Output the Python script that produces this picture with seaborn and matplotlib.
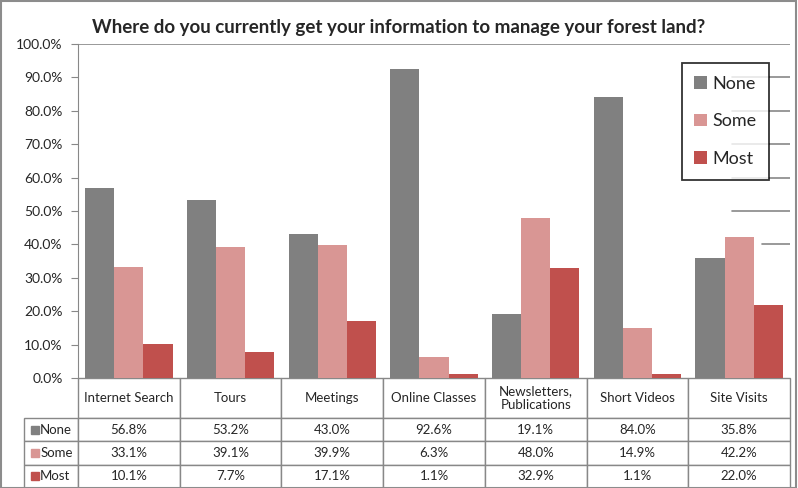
import pandas as pd
import numpy as np
import seaborn as sns
import matplotlib.pyplot as plt
from matplotlib.table import Table
from matplotlib.patches import Rectangle
from matplotlib.ticker import FuncFormatter

sources = ["Internet Search", "Tours", "Meetings", "Online Classes",
           "Newsletters,\nPublications", "Short Videos", "Site Visits"]
levels = ["None", "Some", "Most"]
none_vals = [56.8, 53.2, 43.0, 92.6, 19.1, 84.0, 35.8]
some_vals = [33.1, 39.1, 39.9, 6.3, 48.0, 14.9, 42.2]
most_vals = [10.1, 7.7, 17.1, 1.1, 32.9, 1.1, 22.0]
colors = ["#808080", "#D99694", "#C0504D"]

sns.set_style("white")
plt.rcParams['font.family'] = ['Lato', 'DejaVu Sans']

rows = []
for lvl, vals in zip(levels, [none_vals, some_vals, most_vals]):
    for src, v in zip(sources, vals):
        rows.append({"source": src, "level": lvl, "value": v})
df = pd.DataFrame(rows)

fig = plt.figure(figsize=(7.98, 4.88), dpi=100)
ax = fig.add_axes([78 / 798, 1 - 378 / 488, 712 / 798, 334 / 488])

sns.barplot(data=df, x="source", y="value", hue="level", palette=colors,
            width=0.86, gap=0, errorbar=None, ax=ax, saturation=1, linewidth=0)

ax.set_xlim(-0.5, len(sources) - 0.5)
ax.set_ylim(0, 100)
ax.set_yticks(np.arange(0, 101, 10))
ax.yaxis.set_major_formatter(FuncFormatter(lambda v, p: f"{v:.1f}%"))
ax.tick_params(axis="y", labelsize=10, length=5, color="#888888", left=True, pad=6)
ax.set_xticks([])
ax.set_xlabel("")
ax.set_ylabel("")
for s in ["top", "right", "bottom"]:
    ax.spines[s].set_visible(False)
ax.spines["left"].set_color("#888888")
ax.axhline(100, color="#888888", lw=1.2)
for g in [50, 60, 70, 80, 90]:
    ax.axhline(g, xmin=0.918, xmax=1, color="#888888", lw=1.2)
ax.axhline(40, xmin=0.96, xmax=1, color="#888888", lw=1.2)

fig.suptitle("Where do you currently get your information to manage your forest land?",
             x=0.5, y=1 - 28 / 488, va="center", fontsize=13.5, fontweight="bold")

leg = ax.legend(loc="upper right", bbox_to_anchor=(0.9705, 0.943), fontsize=13,
                frameon=True, fancybox=False, handlelength=0.7, handleheight=0.7,
                labelspacing=1.2, borderpad=0.7, handletextpad=0.3, borderaxespad=0)
leg.get_frame().set_edgecolor("black")
leg.get_frame().set_linewidth(1.3)

# data table under the plot: column 0 holds the row labels
lab_w = 54 / (712 / 7)
tbl = Table(ax, bbox=[-54 / 712, -110 / 334, 1 + 54 / 712, 110 / 334])
head_h, row_h = 40, 23.3
for j, src in enumerate(sources):
    c = tbl.add_cell(0, j + 1, width=1, height=head_h, text=src, loc="center")
    c.get_text().set_fontsize(9.5)
for i, (lvl, vals) in enumerate(zip(levels, [none_vals, some_vals, most_vals])):
    c = tbl.add_cell(i + 1, 0, width=lab_w, height=row_h, text=lvl, loc="left")
    c.PAD = 0.3
    c.get_text().set_fontsize(9.5)
    for j, v in enumerate(vals):
        c = tbl.add_cell(i + 1, j + 1, width=1, height=row_h, text=f"{v:.1f}%", loc="center")
        c.get_text().set_fontsize(9.5)
tbl.auto_set_font_size(False)
for cell in tbl.get_celld().values():
    cell.set_edgecolor("#888888")
    cell.set_linewidth(1.0)
ax.add_table(tbl)

row_centers = [-(40 + 11.6) / 334, -(40 + 34.9) / 334, -(40 + 58.2) / 334]
for yc, col in zip(row_centers, colors):
    ax.add_patch(Rectangle((-47 / 712, yc - 4 / 334), 8 / 712, 8 / 334,
                           transform=ax.transAxes, color=col, clip_on=False))

fig.patches.append(Rectangle((0.001, 0.001), 0.997, 0.996, transform=fig.transFigure,
                             fill=False, edgecolor="#8c8c8c", lw=1.5))

fig.savefig("out.png", dpi=100)
